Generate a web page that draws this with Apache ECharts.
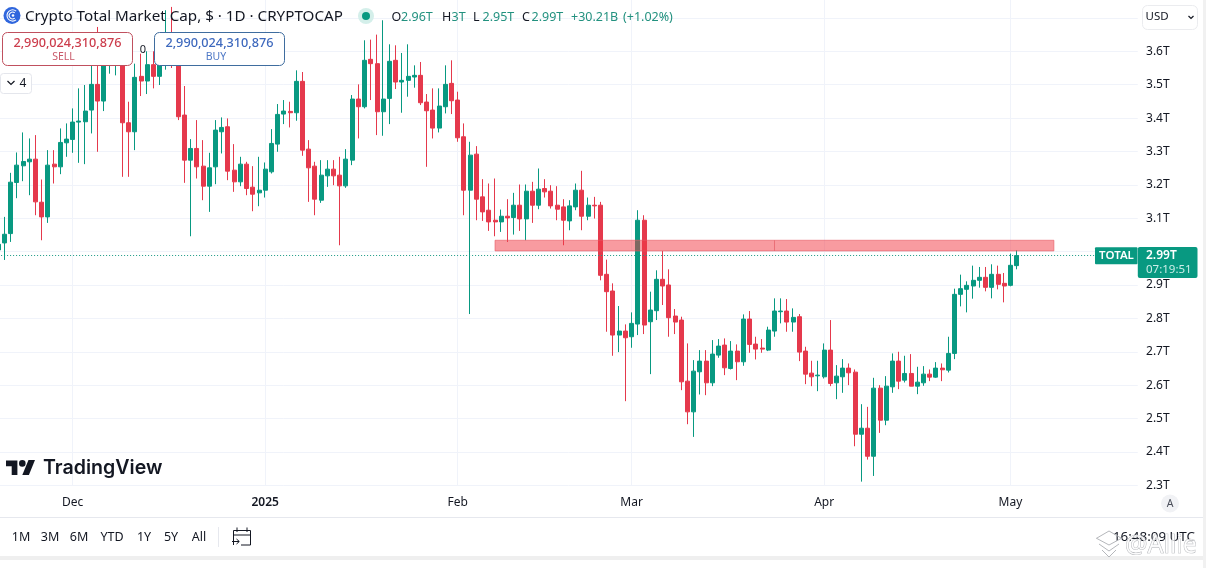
<!DOCTYPE html>
<html><head><meta charset="utf-8">
<style>html,body{margin:0;padding:0;background:#fff;overflow:hidden}#c{width:1206px;height:568px}</style>
<script src="https://cdn.jsdelivr.net/npm/echarts@6/dist/echarts.min.js"></script>
</head><body><div id="c"></div>
<script>
const open=[3.005,
3.026,3.054,3.207,3.257,3.269,3.277,3.148,3.104,3.262,3.254,
3.326,3.336,3.388,3.389,3.424,3.501,3.451,3.573,3.56,3.583,
3.386,3.359,3.525,3.511,3.56,3.525,3.58,3.62,3.58,3.409,
3.274,3.309,3.256,3.196,3.254,3.359,3.374,3.244,3.209,3.262,
3.193,3.176,3.184,3.239,3.322,3.412,3.420,3.416,3.510,3.307,
3.256,3.154,3.227,3.247,3.229,3.197,3.274,3.457,3.434,3.576,
3.563,3.419,3.459,3.573,3.508,3.513,3.523,3.528,3.448,3.424,
3.370,3.434,3.504,3.454,3.344,3.184,3.292,3.164,3.124,3.094,
3.089,3.106,3.102,3.139,3.098,3.181,3.139,3.189,3.181,3.139,
3.134,3.092,3.134,3.184,3.106,3.139,3.139,2.932,2.882,2.750,
2.762,2.745,2.783,3.094,2.790,2.823,2.917,2.900,2.807,2.795,
2.612,2.520,2.640,2.672,2.607,2.690,2.720,2.650,2.702,2.670,
2.798,2.723,2.711,2.705,2.762,2.820,2.822,2.789,2.805,2.702,
2.636,2.628,2.625,2.705,2.607,2.625,2.651,2.639,2.453,2.471,
2.387,2.591,2.495,2.595,2.672,2.615,2.635,2.597,2.607,2.633,
2.624,2.651,2.645,2.695,2.872,2.887,2.897,2.914,2.923,2.893,
2.932,2.905,2.899,2.958];
const close=[3.022,
3.052,3.208,3.259,3.270,3.277,3.149,3.104,3.259,3.254,3.327,
3.337,3.388,3.391,3.421,3.501,3.451,3.583,3.593,3.58,3.386,
3.359,3.522,3.511,3.56,3.525,3.56,3.62,3.58,3.404,3.274,
3.309,3.254,3.196,3.251,3.364,3.372,3.241,3.209,3.262,3.189,
3.172,3.184,3.247,3.324,3.411,3.421,3.416,3.510,3.304,3.251,
3.157,3.229,3.247,3.227,3.197,3.277,3.457,3.434,3.573,3.563,
3.419,3.457,3.570,3.508,3.513,3.525,3.528,3.446,3.422,3.370,
3.436,3.501,3.452,3.341,3.184,3.289,3.157,3.119,3.089,3.089,
3.106,3.101,3.139,3.098,3.181,3.139,3.187,3.179,3.137,3.127,
3.094,3.137,3.184,3.106,3.139,3.137,2.929,2.880,2.750,2.762,
2.742,2.785,3.094,2.780,2.825,2.917,2.897,2.802,2.789,2.610,
2.520,2.642,2.672,2.607,2.693,2.717,2.652,2.702,2.670,2.798,
2.722,2.708,2.708,2.765,2.822,2.822,2.789,2.803,2.699,2.633,
2.625,2.630,2.705,2.605,2.627,2.651,2.637,2.453,2.471,2.387,
2.591,2.495,2.597,2.672,2.612,2.635,2.597,2.609,2.633,2.624,
2.651,2.646,2.695,2.872,2.889,2.899,2.914,2.923,2.893,2.932,
2.902,2.897,2.959,2.988];
const low=[2.975,
2.975,3.029,3.160,3.211,3.169,3.109,3.034,3.086,3.204,3.232,
3.284,3.296,3.266,3.262,3.354,3.299,3.421,3.533,3.528,3.224,
3.224,3.304,3.466,3.472,3.489,3.499,3.545,3.55,3.394,3.206,
3.046,3.219,3.154,3.119,3.202,3.294,3.214,3.179,3.196,3.169,
3.121,3.136,3.162,3.234,3.299,3.382,3.372,3.392,3.287,3.149,
3.109,3.146,3.194,3.199,3.019,3.191,3.259,3.339,3.429,3.454,
3.349,3.347,3.382,3.487,3.416,3.464,3.491,3.439,3.254,3.339,
3.357,3.414,3.412,3.329,3.109,2.813,3.094,3.092,3.062,3.046,
3.059,3.029,3.051,3.062,3.034,3.086,3.127,3.162,3.129,3.094,
3.019,3.064,3.124,3.064,3.094,3.099,2.914,2.760,2.688,2.699,
2.552,2.712,2.750,2.753,2.633,2.795,2.840,2.745,2.753,2.585,
2.483,2.445,2.572,2.570,2.597,2.682,2.630,2.647,2.615,2.658,
2.697,2.677,2.697,2.702,2.745,2.785,2.760,2.760,2.672,2.603,
2.597,2.582,2.620,2.597,2.558,2.577,2.600,2.417,2.311,2.377,
2.328,2.457,2.480,2.577,2.588,2.608,2.597,2.573,2.598,2.612,
2.622,2.612,2.638,2.678,2.836,2.818,2.859,2.892,2.881,2.860,
2.887,2.848,2.896,2.947];
const high=[3.054,
3.104,3.236,3.297,3.357,3.339,3.349,3.216,3.304,3.304,3.369,
3.384,3.429,3.489,3.499,3.558,3.673,3.623,3.603,3.62,3.62,
3.449,3.563,3.593,3.60,3.60,3.62,3.723,3.733,3.62,3.496,
3.337,3.394,3.334,3.296,3.394,3.402,3.399,3.322,3.284,3.269,
3.256,3.284,3.267,3.367,3.442,3.454,3.449,3.543,3.538,3.334,
3.269,3.274,3.274,3.274,3.284,3.307,3.469,3.501,3.633,3.635,
3.650,3.693,3.621,3.618,3.595,3.621,3.558,3.568,3.472,3.489,
3.489,3.558,3.573,3.479,3.384,3.329,3.316,3.217,3.204,3.219,
3.126,3.157,3.176,3.201,3.201,3.209,3.249,3.217,3.199,3.196,
3.157,3.154,3.204,3.242,3.162,3.164,3.149,2.976,2.905,2.837,
2.782,2.818,3.124,3.109,2.880,2.944,3.002,2.947,2.828,2.805,
2.725,2.675,2.705,2.705,2.735,2.738,2.740,2.732,2.722,2.812,
2.822,2.745,2.738,2.775,2.860,2.860,2.858,2.830,2.813,2.715,
2.673,2.673,2.725,2.795,2.660,2.678,2.665,2.647,2.543,2.535,
2.622,2.600,2.627,2.695,2.700,2.688,2.693,2.655,2.657,2.647,
2.669,2.665,2.745,2.889,2.931,2.911,2.958,2.954,2.954,2.962,
2.958,2.936,2.994,3.004];

const startDate=Date.UTC(2024,10,19), dayCount=184;
const categories=[];
for(let i=0;i<dayCount;i++)categories.push(new Date(startDate+i*864e5).toISOString().slice(0,10));
const monthTicks={'2024-12-01':'Dec','2025-01-01':'2025','2025-02-01':'Feb','2025-03-01':'Mar','2025-04-01':'Apr','2025-05-01':'May'};
const priceTicks=['2.3','2.4','2.5','2.6','2.7','2.8','2.9','3.1','3.2','3.3','3.4','3.5','3.6'];
const lastPrice=2.99;
const zoneTop=3.034, zoneBottom=3.002, zoneStart='2025-02-07', zoneEnd='2025-05-08', zoneMid='2025-03-24';
const rangeButtons=[['1M',21],['3M',50],['6M',79],['YTD',112],['1Y',144],['5Y',171],['All',199]];
const ohlcParts=[['O',391.5,'2.96T'],['H',442,'3T'],['L',473,'2.95T'],['C',522,'2.99T']];

const GREEN='#089981',RED='#E5394C',INK='#131722',FONT='"Noto Sans",sans-serif';
const g=[];
function T(text,x,y,o){o=o||{};g.push({type:'text',z:o.z||50,x:x,y:y,style:{text:text,fill:o.c||INK,font:(o.w||'400')+' '+(o.s||12)+'px '+(o.f||FONT),textAlign:o.a||'left',textVerticalAlign:'middle',verticalAlign:'middle',stroke:o.st,lineWidth:o.lw||0,opacity:o.op==null?1:o.op}});}
function R(x,y,w,h,fill,stroke,r,z){g.push({type:'rect',z:z||40,shape:{x:x,y:y,width:w,height:h,r:r||0},style:{fill:fill,stroke:stroke||null,lineWidth:stroke?1:0}});}
function L(pts,stroke,w,z){g.push({type:'polyline',z:z||50,shape:{points:pts},style:{stroke:stroke,lineWidth:w||1,fill:null}});}
function P(pts,fill,z){g.push({type:'polygon',z:z||50,shape:{points:pts},style:{fill:fill}});}

// header
g.push({type:'circle',z:50,shape:{cx:12,cy:15.5,r:8.5},style:{fill:'#2f66dd'}});
[5.6,3.4].forEach(r=>g.push({type:'arc',z:51,shape:{cx:12.6,cy:15.5,r:r,startAngle:0.9,endAngle:5.4},style:{stroke:'#fff',lineWidth:1.1,fill:null}}));
g.push({type:'circle',z:51,shape:{cx:13,cy:15.5,r:1.3},style:{fill:'#fff'}});
T('Crypto Total Market Cap, $ · 1D · CRYPTOCAP',25,16.5,{s:15.2});
g.push({type:'circle',z:50,shape:{cx:366,cy:16,r:8},style:{fill:'#d4efea'}});
g.push({type:'circle',z:51,shape:{cx:366,cy:16,r:4},style:{fill:GREEN}});
ohlcParts.forEach(p=>{T(p[0],p[1],17,{s:12.5});T(p[2],p[1]+9.5,17,{s:12.5,c:'#22917f'});});
T('+30.21B',571,17,{s:12.5,c:'#22917f'});
T('(+1.02%)',623,17,{s:12.5,c:'#22917f'});

// sell / buy
R(2.5,32.5,130,33,'#fff','#c0505e',5);
T('2,990,024,310,876',67.5,43,{a:'center',c:'#cc3d4c',w:'500',s:12.7});
T('SELL',63.5,57.5,{a:'center',c:'#c9596a',s:10.5});
R(154.5,32.5,130,33,'#fff','#3f6d9f',5);
T('2,990,024,310,876',219.5,43,{a:'center',c:'#3d68bd',w:'500',s:12.7});
T('BUY',216,57.5,{a:'center',c:'#4e78c6',s:10.5});
T('0',143,49.5,{a:'center',s:11});
R(0.5,73.5,31,20,'#fff','#e4e6ec',3);
L([[7.5,81],[11,84.5],[14.5,81]],INK,1.2);
T('4',23,84,{a:'center',s:12});

// usd + right rail
R(1142.5,5.5,55,24,'#fff','#ebecef',5);
T('USD',1145.5,17,{s:11.5});
L([[1188.5,16],[1191,18.5],[1193.5,16]],INK,1.2);

// last price tag
R(1095,247.3,42.5,17,GREEN,null,1,45);
T('TOTAL',1116.5,256,{a:'center',c:'#fff',w:'600',s:11.5});
R(1137.8,247,59.7,31,GREEN,null,2,45);
T('2.99T',1146,256,{c:'#fff',w:'600',s:12});
T('07:19:51',1146,270,{c:'#cdeee8',s:11.5});

// A
g.push({type:'circle',z:50,shape:{cx:1170,cy:503.5,r:9},style:{fill:'#f1f2f5'}});
T('A',1170,504,{a:'center',s:10.5,c:'#4a4e5a'});

// TradingView
P([[17.4,475],[11.7,475],[11.7,466.3],[6,466.3],[6,460.4],[17.4,460.4]],INK);
P([[28.9,475],[22.3,475],[28.5,460],[35,460]],INK);
g.push({type:'circle',z:50,shape:{cx:22.3,cy:463.4,r:3.3},style:{fill:INK}});
T('TradingView',43,468.5,{s:19.6,w:'600',f:'Inter,sans-serif'});

// bottom toolbar
R(0,517,1203,1,'#e6e8ee',null,0,30);
rangeButtons.forEach(b=>T(b[0],b[1],537.5,{a:'center',s:12.5}));
R(218,527,1,20,'#e6e8ee',null,0,30);
L([[233.5,545],[233.5,530.5],[250.5,530.5],[250.5,545],[241,545]],INK,1);
L([[233.5,535],[250.5,535]],INK,1);
L([[237,527.5],[237,532]],INK,1);L([[247,527.5],[247,532]],INK,1);
L([[232,541.5],[239,541.5]],INK,1);L([[236.5,539],[239.3,541.5],[236.5,544]],INK,1);
T('16:48:09 UTC',1195,537.5,{a:'right',s:13.4});
R(0,556,1203,4,'#efefef',null,0,60);
R(1203,0,3,568,'#f1f1f1',null,0,60);

// watermark
T('@Allie',1125,545.5,{s:25,c:'rgba(255,255,255,0.75)',st:'#a9abb0',lw:0.7,z:70});
[0,6,12].forEach((d,i)=>L([[1096+i*3,538+d],[1109,545+d],[1122-i*3,538+d]],'#b5b7bb',1,70));
L([[1097,538],[1109,531],[1121,538]],'#b5b7bb',1,70);

const chart=echarts.init(document.getElementById('c'),null,{renderer:'canvas'});
chart.setOption({
 animation:false,backgroundColor:'#fff',
 grid:{left:-4.9,width:1142.64,top:-0.4,height:485.7,outerBoundsMode:'none'},
 xAxis:{type:'category',data:categories,boundaryGap:true,
  axisLine:{show:false},axisTick:{show:false},
  axisLabel:{interval:(i,v)=>!!monthTicks[v],formatter:v=>{const m=monthTicks[v];return m==='2025'?'{b|2025}':(m||'');},
    color:INK,fontFamily:FONT,fontSize:12,margin:11,rich:{b:{fontWeight:600,color:INK,fontFamily:FONT,fontSize:12}}},
  splitLine:{show:true,alignWithLabel:true,interval:(i,v)=>!!monthTicks[v],lineStyle:{color:'#f0f3fa',width:1}}},
 yAxis:{type:'value',position:'right',min:2.3,max:3.7549,interval:0.1,
  axisLine:{show:false},axisTick:{show:false},
  axisLabel:{showMaxLabel:false,color:INK,fontFamily:FONT,fontSize:12,margin:8.3,formatter:v=>priceTicks.includes(v.toFixed(1))?v.toFixed(1)+'T':''},
  splitLine:{lineStyle:{color:'#f0f3fa',width:1}}},
 graphic:g,
 series:[{type:'candlestick',barWidth:4.5,clip:true,
  data:open.map((o,i)=>[o,close[i],low[i],high[i]]),
  itemStyle:{color:GREEN,color0:RED,borderColor:GREEN,borderColor0:RED,borderWidth:1},
  markLine:{silent:true,symbol:'none',animation:false,z:3,label:{show:false},
   data:[
    {yAxis:lastPrice,lineStyle:{color:'#1a9a85',type:[1,2],width:1}},
    [{xAxis:zoneMid,yAxis:zoneTop,lineStyle:{color:'rgba(190,60,70,0.45)',width:1,type:'solid'}},{xAxis:zoneMid,yAxis:zoneBottom}]
   ]},
  markArea:{silent:true,z:6,animation:false,label:{show:false},
   itemStyle:{color:'rgba(242,55,65,0.5)',borderColor:'rgba(230,90,100,0.6)',borderWidth:1},
   data:[[{xAxis:zoneStart,yAxis:zoneTop},{xAxis:zoneEnd,yAxis:zoneBottom}]]}
 }]
});
</script></body></html>
